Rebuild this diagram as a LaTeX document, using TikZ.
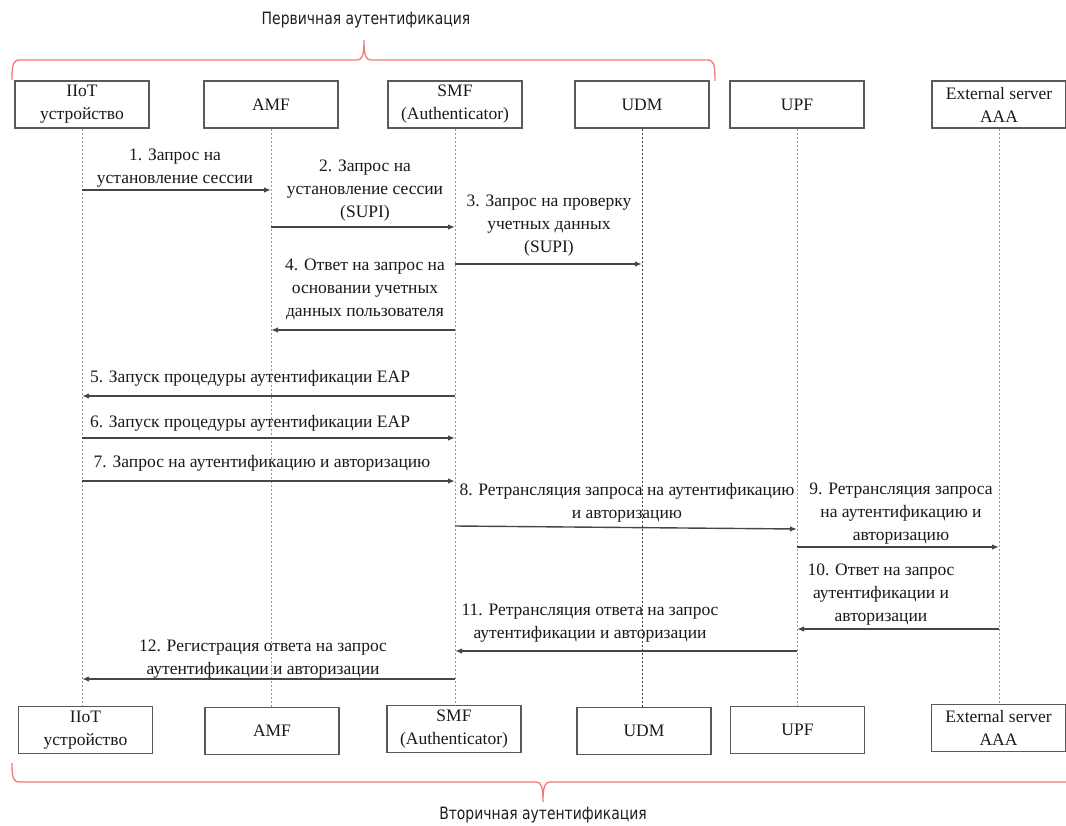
\documentclass[tikz,border=0pt]{standalone}
\usepackage{fontspec}
\setmainfont{Liberation Serif}
\newfontfamily\capfont[FakeStretch=0.82]{DejaVu Sans}
\usetikzlibrary{arrows.meta}

\definecolor{txt}{RGB}{25,25,25}
\definecolor{boxline}{RGB}{90,90,90}
\definecolor{lifegray}{RGB}{150,150,150}
\definecolor{lifedark}{RGB}{60,60,60}
\definecolor{arrowgray}{RGB}{70,70,70}
\definecolor{bracecol}{RGB}{244,118,118}
\definecolor{notecol}{RGB}{30,30,30}

\begin{document}
\begin{tikzpicture}[x=1pt,y=-1pt,
  actor/.style={draw=boxline, line width=1.3pt, minimum width=134pt,
    minimum height=47pt, inner sep=0pt, align=center, text=txt,
    font=\fontsize{17.5}{23}\selectfont},
  msg/.style={align=center, inner sep=0pt, text=txt,
    font=\fontsize{17.5}{23}\selectfont},
  life/.style={draw=lifegray, line width=0.9pt, dash pattern=on 2pt off 2pt},
  call/.style={draw=arrowgray, line width=1.4pt, -{Latex[length=7pt,width=5.5pt]}},
  bracket/.style={draw=bracecol, line width=1.3pt},
  note/.style={font=\capfont\fontsize{17}{20}\selectfont, text=notecol, inner sep=0pt}]
\useasboundingbox (0,0) rectangle (1066,826);

% participants, top row
\node[actor] (iotT) at (82,104.5)  {IIoT\\устройство};
\node[actor] (amfT) at (271,104.5) {AMF};
\node[actor] (smfT) at (455,104.5) {SMF\\(Authenticator)};
\node[actor] (udmT) at (642,104.5) {UDM};
\node[actor] (upfT) at (797,104.5) {UPF};
\node[actor] (extT) at (999,104.5) {External server\\AAA};

% participants, bottom row
\node[actor] (iotB) at (85.5,730) {IIoT\\устройство};
\node[actor] (amfB) at (272,731)  {AMF};
\node[actor] (smfB) at (454,729)  {SMF\\(Authenticator)};
\node[actor] (udmB) at (644,731)  {UDM};
\node[actor] (upfB) at (797.5,730) {UPF};
\node[actor] (extB) at (998.5,728) {External server\\AAA};

% lifelines
\draw[life] (iotT.south) -- (iotT.south |- iotB.north);
\draw[life] (amfT.south) -- (amfT.south |- amfB.north);
\draw[life] (smfT.south) -- (smfT.south |- smfB.north);
\draw[life, draw=lifedark] (udmT.south) -- (udmT.south |- udmB.north);
\draw[life] (upfT.south) -- (upfT.south |- upfB.north);
\draw[life] (extT.south) -- (extT.south |- extB.north);

% messages
\draw[call] (iotT |- 0,190) -- (amfT |- 0,190);
\node[msg] (m1) at (175,168.5) {1. Запрос на\\установление сессии};

\draw[call] (amfT |- 0,227) -- (smfT |- 0,227);
\node[msg] (m2) at (365,191) {2. Запрос на\\установление сессии\\(SUPI)};

\draw[call] (smfT |- 0,264) -- (udmT |- 0,264);
\node[msg] (m3) at (549,226) {3. Запрос на проверку\\учетных данных\\(SUPI)};

\draw[call] (smfT |- 0,330) -- (amfT |- 0,330);
\node[msg] (m4) at (365,289.5) {4. Ответ на запрос на\\основании учетных\\данных пользователя};

\draw[call] (smfT |- 0,396) -- (iotT |- 0,396);
\node[msg] (m5) at (250,378) {5. Запуск процедуры аутентификации EAP};

\draw[call] (iotT |- 0,438) -- (smfT |- 0,438);
\node[msg] (m6) at (250,423) {6. Запуск процедуры аутентификации EAP};

\draw[call] (iotT |- 0,481) -- (smfT |- 0,481);
\node[msg] (m7) at (262,463) {7. Запрос на аутентификацию и авторизацию};

\draw[call] (smfT |- 0,526) -- (upfT |- 0,529);
\node[msg] (m8) at (627,503) {8. Ретрансляция запроса на аутентификацию\\и авторизацию};

\draw[call] (upfT |- 0,547) -- (extT |- 0,547);
\node[msg] (m9) at (901,514) {9. Ретрансляция запроса\\на аутентификацию и\\авторизацию};

\draw[call] (extT |- 0,629) -- (upfT |- 0,629);
\node[msg] (m10) at (881,594.5) {10. Ответ на запрос\\аутентификации и\\авторизации};

\draw[call] (upfT |- 0,651) -- (smfT |- 0,651);
\node[msg] (m11) at (590,623.5) {11. Ретрансляция ответа на запрос\\аутентификации и авторизации};

\draw[call] (smfT |- 0,679) -- (iotT |- 0,679);
\node[msg] (m12) at (263,659) {12. Регистрация ответа на запрос\\аутентификации и авторизации};

% braces marking the two authentication phases
\draw[bracket] (12,80) .. controls (12,64) and (13,60) .. (20,60)
  -- (357,60) .. controls (362,60) and (364,56) .. (364,40)
  .. controls (364,56) and (366,60) .. (371,60)
  -- (707,60) .. controls (714,60) and (715,64) .. (715,81);
\node[note] (primary) at (366,20) {Первичная аутентификация};

\draw[bracket] (12,763) .. controls (12,778) and (13,782) .. (20,782)
  -- (536,782) .. controls (541,782) and (543,786) .. (543,802)
  .. controls (543,786) and (545,782) .. (550,782)
  -- (1066,782);
\node[note] (secondary) at (543,815) {Вторичная аутентификация};
\end{tikzpicture}
\end{document}
